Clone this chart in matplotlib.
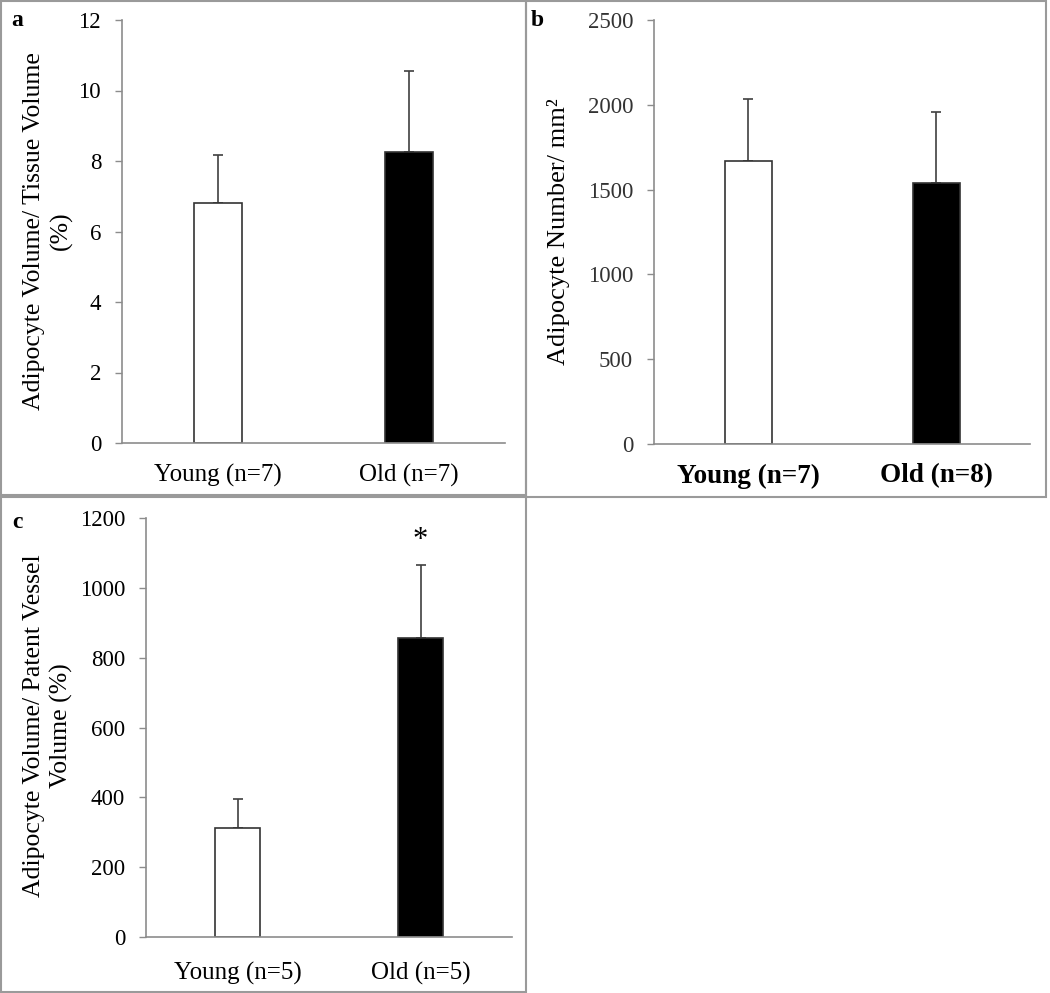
import matplotlib
matplotlib.use("Agg")
import matplotlib.pyplot as plt
from matplotlib.patches import Rectangle

plt.rcParams['font.family'] = ['Liberation Serif', 'DejaVu Serif']

W, H = 1050, 993

# panel a: adipocyte volume / tissue volume
groups_a = ["Young (n=7)", "Old (n=7)"]
means_a = [6.82, 8.26]
errs_a = [1.35, 2.30]

# panel b: adipocyte number per mm2
groups_b = ["Young (n=7)", "Old (n=8)"]
means_b = [1670, 1541]
errs_b = [366, 415]

# panel c: adipocyte volume / patent vessel volume
groups_c = ["Young (n=5)", "Old (n=5)"]
means_c = [312, 855]
errs_c = [82, 210]

fig = plt.figure(figsize=(W / 100, H / 100), dpi=100)


def px_axes(x0, y0, x1, y1):
    # pixel box (top-left origin) -> figure fraction axes
    return fig.add_axes([x0 / W, 1 - y1 / H, (x1 - x0) / W, (y1 - y0) / H])


def bar_panel(ax, groups, means, errs, ymax, step, bold_x=False, tick_color="black", xpad=15):
    ax.bar([0, 1], means, width=0.25, color=["white", "black"],
           edgecolor="#333333", linewidth=1.2, zorder=2)
    ax.errorbar([0, 1], means, yerr=[[0, 0], errs], fmt="none",
                ecolor="#404040", elinewidth=1.2, capsize=3.5, capthick=1.2, zorder=1)
    ax.set_xlim(-0.5, 1.5)
    ax.set_ylim(0, ymax)
    ax.set_yticks(range(0, ymax + 1, step))
    ax.set_xticks([0, 1])
    ax.set_xticklabels(groups, fontsize=19.5 if bold_x else 18,
                       fontweight="bold" if bold_x else "normal")
    for s in ["top", "right"]:
        ax.spines[s].set_visible(False)
    for s in ["left", "bottom"]:
        ax.spines[s].set_color("#8c8c8c")
        ax.spines[s].set_linewidth(1.2)
    ax.tick_params(axis="y", length=5, width=1.0, color="#8c8c8c", pad=10,
                   labelsize=16.5, labelcolor=tick_color)
    ax.tick_params(axis="x", length=0, pad=xpad)


ax_a = px_axes(122, 20, 505, 443)
bar_panel(ax_a, groups_a, means_a, errs_a, 12, 2, xpad=15)

ax_b = px_axes(654, 20, 1030, 444)
bar_panel(ax_b, groups_b, means_b, errs_b, 2500, 500, bold_x=True, tick_color="#333333", xpad=14)

ax_c = px_axes(146, 518, 512, 937)
bar_panel(ax_c, groups_c, means_c, errs_c, 1200, 200, xpad=18)
ax_c.text(1, 1135, "*", ha="center", va="center", fontsize=22)

# y axis titles
fig.text(48 / W, 1 - 231 / H, "Adipocyte Volume/ Tissue Volume\n(%)", rotation=90,
         ha="center", va="center", multialignment="center", fontsize=18.5, linespacing=1.25)
fig.text(558 / W, 1 - 232 / H, "Adipocyte Number/ mm²", rotation=90,
         ha="center", va="center", fontsize=19)
fig.text(48 / W, 1 - 726 / H, "Adipocyte Volume/ Patent Vessel\nVolume (%)", rotation=90,
         ha="center", va="center", multialignment="center", fontsize=18.5, linespacing=1.25)

# panel letters
for lx, ly, lab in [(17, 20, "a"), (537, 20, "b"), (17, 523, "c")]:
    fig.text(lx / W, 1 - ly / H, lab, ha="center", va="center",
             fontsize=17, fontweight="bold")

# panel frames
for x0, y0, x1, y1 in [(1, 1, 526, 495), (526, 1, 1046, 497), (1, 497, 526, 992)]:
    fig.add_artist(Rectangle((x0 / W, 1 - y1 / H), (x1 - x0) / W, (y1 - y0) / H,
                             transform=fig.transFigure, fill=False,
                             edgecolor="#9a9a9a", linewidth=1.5))

fig.savefig("out.png", dpi=100)
